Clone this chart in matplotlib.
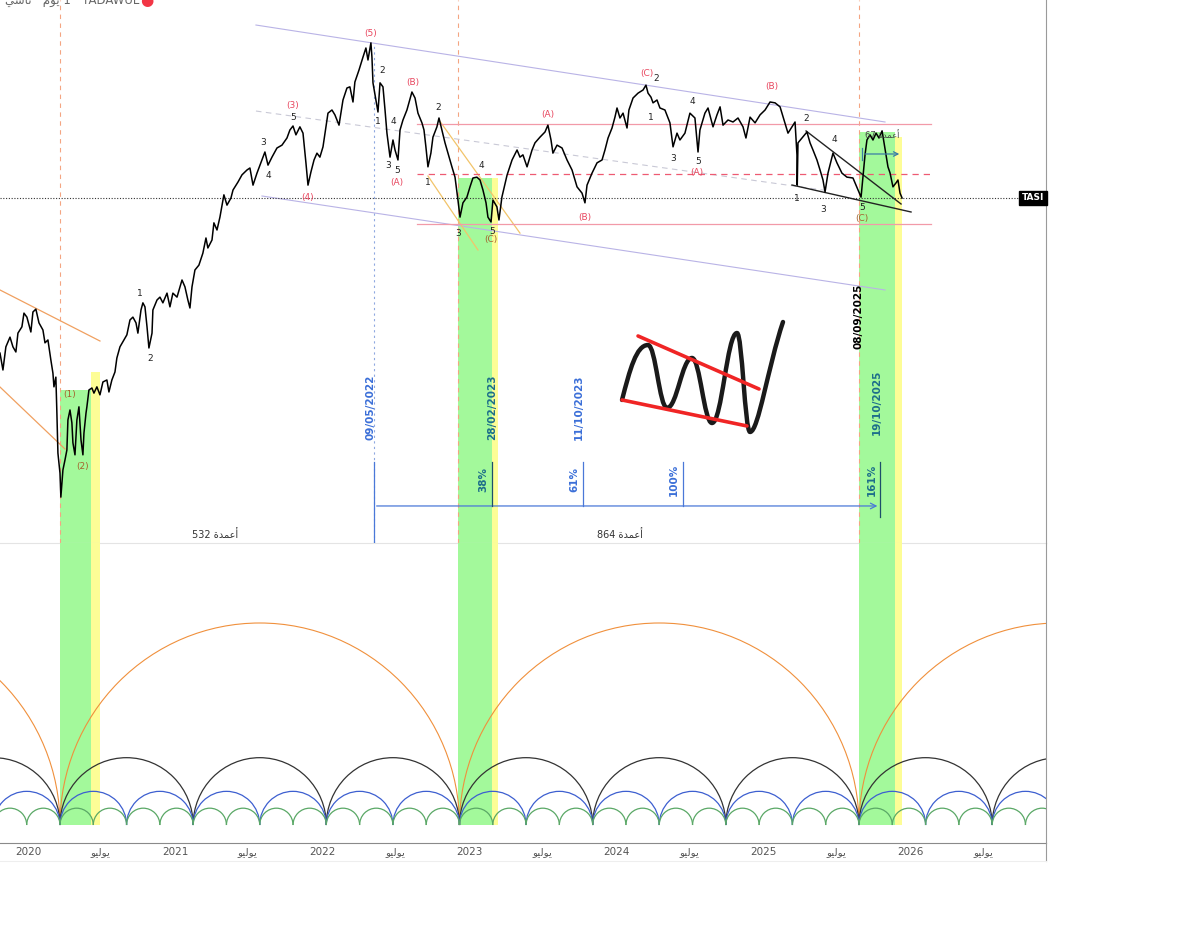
import numpy as np
import matplotlib.pyplot as plt
from matplotlib.patches import Arc, PathPatch
from matplotlib.path import Path
from matplotlib.lines import Line2D

plt.rcParams['font.family'] = ['DejaVu Sans']

# TASI daily close (decimal year, index points)
dates = [2019.810, 2019.830, 2019.850, 2019.878, 2019.898, 2019.918, 2019.932, 2019.959, 2019.973, 2019.993,
         2020.020, 2020.034, 2020.054, 2020.075, 2020.102, 2020.116, 2020.136, 2020.156, 2020.170, 2020.177,
         2020.190, 2020.197, 2020.204, 2020.218, 2020.224, 2020.238, 2020.252, 2020.265, 2020.272, 2020.286,
         2020.299, 2020.306, 2020.320, 2020.333, 2020.347, 2020.361, 2020.374, 2020.381, 2020.395, 2020.401,
         2020.415, 2020.435, 2020.449, 2020.469, 2020.490, 2020.510, 2020.537, 2020.551, 2020.571, 2020.592,
         2020.605, 2020.626, 2020.653, 2020.673, 2020.694, 2020.714, 2020.735, 2020.748, 2020.769, 2020.782,
         2020.796, 2020.810, 2020.823, 2020.844, 2020.850, 2020.878, 2020.898, 2020.918, 2020.946, 2020.966,
         2020.986, 2021.014, 2021.048, 2021.068, 2021.088, 2021.102, 2021.116, 2021.136, 2021.163, 2021.190,
         2021.211, 2021.224, 2021.252, 2021.265, 2021.286, 2021.306, 2021.333, 2021.354, 2021.381, 2021.395,
         2021.429, 2021.456, 2021.490, 2021.510, 2021.531, 2021.558, 2021.592, 2021.612, 2021.633, 2021.660,
         2021.694, 2021.728, 2021.762, 2021.782, 2021.803, 2021.823, 2021.850, 2021.871, 2021.891, 2021.905,
         2021.925, 2021.946, 2021.966, 2021.986, 2022.007, 2022.027, 2022.041, 2022.068, 2022.088, 2022.116,
         2022.143, 2022.170, 2022.190, 2022.211, 2022.224, 2022.252, 2022.279, 2022.299, 2022.313, 2022.333,
         2022.340, 2022.347, 2022.367, 2022.381, 2022.395, 2022.415, 2022.429, 2022.442, 2022.463, 2022.483,
         2022.497, 2022.517, 2022.531, 2022.551, 2022.578, 2022.612, 2022.633, 2022.653, 2022.680, 2022.694,
         2022.707, 2022.721, 2022.741, 2022.755, 2022.782, 2022.796, 2022.816, 2022.837, 2022.857, 2022.884,
         2022.905, 2022.925, 2022.939, 2022.959, 2022.986, 2023.007, 2023.027, 2023.054, 2023.075, 2023.095,
         2023.116, 2023.129, 2023.150, 2023.163, 2023.190, 2023.204, 2023.224, 2023.259, 2023.293, 2023.327,
         2023.347, 2023.367, 2023.395, 2023.429, 2023.449, 2023.483, 2023.517, 2023.537, 2023.558, 2023.571,
         2023.599, 2023.633, 2023.667, 2023.701, 2023.735, 2023.769, 2023.789, 2023.803, 2023.837, 2023.871,
         2023.905, 2023.925, 2023.946, 2023.973, 2023.993, 2024.007, 2024.027, 2024.048, 2024.075, 2024.088,
         2024.116, 2024.150, 2024.184, 2024.204, 2024.218, 2024.238, 2024.252, 2024.279, 2024.299, 2024.333,
         2024.367, 2024.388, 2024.415, 2024.435, 2024.469, 2024.503, 2024.537, 2024.558, 2024.571, 2024.605,
         2024.626, 2024.660, 2024.687, 2024.708, 2024.728, 2024.762, 2024.796, 2024.830, 2024.864, 2024.884,
         2024.912, 2024.946, 2024.980, 2025.014, 2025.048, 2025.082, 2025.116, 2025.143, 2025.170, 2025.197,
         2025.218, 2025.231, 2025.233, 2025.238, 2025.265, 2025.299, 2025.320, 2025.340, 2025.367, 2025.388,
         2025.408, 2025.422, 2025.442, 2025.476, 2025.503, 2025.537, 2025.571, 2025.612, 2025.646, 2025.667,
         2025.694, 2025.707, 2025.728, 2025.748, 2025.769, 2025.789, 2025.810, 2025.837, 2025.850, 2025.864,
         2025.884, 2025.905, 2025.918, 2025.932, 2025.946]
prices = [8520, 8225, 8630, 8800, 8630, 8540, 8870, 8980, 9220, 9150,
          8890, 9240, 9290, 9050, 8925, 8700, 8750, 8400, 8170, 7930,
          8100, 7470, 6770, 6420, 6000, 6475, 6650, 6825, 7350, 7525,
          7300, 6950, 6740, 7350, 7580, 7000, 6740, 7120, 7470, 7580,
          7875, 7910, 7820, 7930, 7790, 8015, 8050, 7840, 8050, 8190,
          8435, 8630, 8750, 8840, 9100, 9150, 9050, 8870, 9275, 9400,
          9330, 8980, 8610, 8870, 9275, 9450, 9500, 9400, 9570, 9330,
          9570, 9500, 9800, 9680, 9450, 9310, 9680, 9975, 10060, 10270,
          10535, 10360, 10500, 10800, 10675, 10900, 11290, 11110, 11235, 11375,
          11515, 11640, 11725, 11760, 11460, 11670, 11900, 12040, 11810, 11950,
          12110, 12160, 12285, 12425, 12495, 12340, 12480, 12370, 11850, 11460,
          11690, 11900, 12020, 11950, 12130, 12480, 12720, 12775, 12690, 12510,
          12950, 13160, 13180, 12915, 13265, 13475, 13700, 13860, 13650, 13950,
          13700, 13250, 12950, 12740, 13250, 13180, 12775, 12370, 11950, 12250,
          12075, 11900, 12425, 12600, 12775, 13090, 12985, 12720, 12550, 12425,
          12130, 11780, 12020, 12300, 12480, 12635, 12425, 12200, 12020, 11780,
          11600, 11200, 10900, 11150, 11250, 11430, 11585, 11600, 11550, 11375,
          11150, 10900, 10815, 11200, 11080, 10850, 11250, 11635, 11900, 12075,
          11950, 11990, 11780, 12075, 12200, 12300, 12390, 12510, 12250, 12020,
          12160, 12110, 11900, 11725, 11430, 11320, 11150, 11460, 11670, 11850,
          11900, 12075, 12285, 12460, 12650, 12810, 12635, 12720, 12460, 12775,
          12985, 13070, 13125, 13210, 13070, 13000, 12900, 12950, 12810, 12775,
          12550, 12130, 12370, 12250, 12370, 12720, 12635, 12040, 12425, 12720,
          12810, 12480, 12690, 12830, 12510, 12600, 12565, 12635, 12480, 12285,
          12650, 12550, 12690, 12775, 12915, 12900, 12830, 12600, 12370, 12480,
          12565, 11990, 11460, 12200, 12285, 12390, 12200, 12075, 11900, 11725,
          11550, 11340, 11670, 12020, 11850, 11670, 11600, 11585, 11375, 11250,
          11990, 12250, 12340, 12250, 12370, 12285, 12410, 11990, 11780, 11675,
          11430, 11500, 11550, 11320, 11235]

# time windows (green = window, yellow = extension)
band_start = [2020.218, 2022.925, 2025.653]
band_split = [2020.429, 2023.156, 2025.898]
band_end = [2020.490, 2023.197, 2025.946]
band_top_green = [7875, 11585, 12390]
band_top_yellow = [8190, 11585, 12302]

# cycle lines (hurst-style arcs)
cycle_anchor = 2020.218
cycle_period = 2.7175
cycle_divs = [1, 3, 6, 12]
cycle_colors = ['#f0903c', '#333333', '#3d5fd0', '#5aa866']

# horizontal levels
level_solid = [12530, 10780]
level_dashed = 11655

# fib time projection
fib_dates = [2022.353, 2023.160, 2023.775, 2024.456, 2025.797]
fib_labels = ['', '38%', '61%', '100%', '161%']
fib_colors = ['#3b6fd8', '#1d6e8a', '#3b6fd8', '#3b6fd8', '#1d6e8a']

# wave labels
wave_x = [2022.333, 2021.803, 2021.803, 2021.599, 2021.633, 2021.905, 2022.408, 2022.381, 2022.483, 2022.449,
          2022.510, 2022.510, 2022.619, 2022.789, 2022.721, 2023.082, 2022.925, 2023.157, 2023.150, 2023.537,
          2023.789, 2024.211, 2024.272, 2024.238, 2024.388, 2024.517, 2024.558, 2024.551, 2025.061, 2025.293,
          2025.483, 2025.231, 2025.408, 2025.674, 2025.674, 2020.762, 2020.830, 2020.286, 2020.374]
wave_y = [14122, 12862, 12652, 12198, 11620, 11235, 13458, 12582, 12582, 11812,
          11720, 11510, 13248, 12810, 11498, 11795, 10605, 10640, 10500, 12688,
          10902, 13422, 13318, 12652, 11918, 12915, 11880, 11680, 13178, 12618,
          12250, 11218, 11042, 11070, 10870, 9572, 8418, 7788, 6528]
wave_txt = ['(5)', '(3)', '5', '3', '4', '(4)', '2', '1', '4', '3',
            '5', '(A)', '(B)', '2', '1', '4', '3', '5', '(C)', '(A)',
            '(B)', '(C)', '2', '1', '3', '4', '5', '(A)', '(B)', '2',
            '4', '1', '3', '5', '(C)', '1', '2', '(1)', '(2)']

RED = '#e8475f'
BROWN = '#a5622e'

fig = plt.figure(figsize=(12, 9.26), dpi=100)
ax = fig.add_axes([0, 383 / 926, 1046 / 1200, 543 / 926])
ax2 = fig.add_axes([0, 83 / 926, 1046 / 1200, 300 / 926])

XMIN, XMAX = 2019.81, 2026.925
YMIN, YMAX = 5197, 14700
for a in (ax, ax2):
    a.set_xlim(XMIN, XMAX)
    a.set_facecolor('none')
ax.set_ylim(YMIN, YMAX)
ax2.set_ylim(-0.089, 1.396)

# bands
for i in range(3):
    ax.fill_between([band_start[i], band_split[i]], YMIN, band_top_green[i], color='#a3f99b', lw=0, zorder=1)
    ax.fill_between([band_split[i], band_end[i]], YMIN, band_top_yellow[i], color='#fdfd96', lw=0, zorder=1)
    ax2.fill_between([band_start[i], band_split[i]], 0, 1.396, color='#a3f99b', lw=0, zorder=1)
    ax2.fill_between([band_split[i], band_end[i]], 0, 1.396, color='#fdfd96', lw=0, zorder=1)
    ax.axvline(band_start[i], color='#f4a582', ls=(0, (4, 4)), lw=0.8, zorder=2)

# channel lines
ax.plot([2021.551, 2025.830], [14262, 12565], color='#b9b3e6', lw=0.8, zorder=2)
ax.plot([2021.592, 2025.830], [11270, 9625], color='#b9b3e6', lw=0.8, zorder=2)
ax.plot([2021.551, 2025.456], [12757, 11357], color='#c9c9d6', lw=0.8, ls=(0, (5, 4)), zorder=2)
ax.plot([2019.810, 2020.490], [9625, 8732], color='#f0a060', lw=0.9, zorder=2)
ax.plot([2019.810, 2020.252], [7927, 6842], color='#f0a060', lw=0.9, zorder=2)
ax.plot([2022.796, 2023.347], [12600, 10620], color='#f2c46a', lw=0.9, zorder=2)
ax.plot([2022.721, 2023.061], [11620, 10325], color='#f2c46a', lw=0.9, zorder=2)

# horizontal levels
for lv in level_solid:
    ax.plot([2022.646, 2026.143], [lv, lv], color='#f29aa8', lw=0.9, zorder=2)
ax.plot([2022.646, 2026.143], [level_dashed] * 2, color='#ee5a72', lw=0.9, ls=(0, (5, 4)), zorder=2)

# wedge
ax.plot([2025.293, 2025.939], [12408, 11130], color='#222222', lw=1.0, zorder=4)
ax.plot([2025.197, 2026.007], [11462, 10990], color='#222222', lw=1.0, zorder=4)

# peak time line
ax.plot([fib_dates[0], fib_dates[0]], [YMIN, 13950], color='#8fa8e0', lw=0.8, ls=(0, (2, 3)), zorder=2)

# price
ax.plot(dates, prices, color='black', lw=1.1, zorder=5)
last = prices[-1]
ax.axhline(last, color='#333333', lw=0.8, ls=(0, (1, 1.5)), zorder=3)
ax.text(XMAX - 0.01, last, 'TASI', color='white', fontsize=6.5, fontweight='bold', ha='right', va='center',
        bbox=dict(boxstyle='square,pad=0.3', fc='black', ec='black'), zorder=6)

# wave labels
for x, y, t in zip(wave_x, wave_y, wave_txt):
    if t.startswith('('):
        c = BROWN if (t in ('(1)', '(2)') or (t == '(C)' and x < 2023.3) or (t == '(C)' and x > 2025.5)) else RED
    else:
        c = '#222222'
    ax.text(x, y, t, color=c, fontsize=6.5, ha='center', va='center', zorder=6)

# fib time projection
base_y = 5845
ax.annotate('', xy=(fib_dates[-1], base_y), xytext=(fib_dates[0], base_y),
            arrowprops=dict(arrowstyle='->', color='#4a78d8', lw=0.9), zorder=4)
ax.plot([fib_dates[0]] * 2, [YMIN, 6615], color='#4a78d8', lw=0.9, zorder=4)
for d, lab, c in zip(fib_dates[1:], fib_labels[1:], fib_colors[1:]):
    lo = 5652 if lab == '161%' else base_y
    ax.plot([d, d], [lo, 6615], color='#1d4f6a' if c == '#1d6e8a' else '#4a78d8', lw=0.9, zorder=4)
    ax.text(d - 0.06, 6310, lab, color=c, fontsize=7.5, fontweight='bold', rotation=90, ha='center',
            va='center', zorder=6)

ax.text(2022.333, 7580, '09/05/2022', color='#3b6fd8', fontsize=7.5, fontweight='bold', rotation=90,
        ha='center', va='center', zorder=6)
ax.text(2023.156, 7580, '28/02/2023', color='#1d6e8a', fontsize=7.5, fontweight='bold', rotation=90,
        ha='center', va='center', zorder=6)
ax.text(2023.748, 7580, '11/10/2023', color='#3b6fd8', fontsize=7.5, fontweight='bold', rotation=90,
        ha='center', va='center', zorder=6)
ax.text(2025.653, 9170, '08/09/2025', color='black', fontsize=7.5, fontweight='bold', rotation=90,
        ha='center', va='center', zorder=6)
ax.text(2025.776, 7665, '19/10/2025', color='#1d6e8a', fontsize=7.5, fontweight='bold', rotation=90,
        ha='center', va='center', zorder=6)

# bar counts (Arabic in presentation forms, visual order)
bars_word = '\uFE93\uFEAA\uFEE4\uFECB\uFE83'
ax.text(2021.272, 5340, '532 ' + bars_word, color='#333333', fontsize=7, ha='center', va='center', zorder=6)
ax.text(2024.027, 5340, '864 ' + bars_word, color='#333333', fontsize=7, ha='center', va='center', zorder=6)
ax.text(2025.694, 12320, '67 ' + bars_word, color='#444444', fontsize=6, ha='left', va='center', zorder=6)
ax.annotate('', xy=(2025.946, 12005), xytext=(2025.674, 12005),
            arrowprops=dict(arrowstyle='->', color='#3a7ca5', lw=0.9, mutation_scale=8), zorder=6)
ax.plot([2025.674] * 2, [11900, 12110], color='#3a7ca5', lw=0.9, zorder=6)

# hand-drawn pattern: swing points joined by smooth curves
sx = [2024.041, 2024.218, 2024.347, 2024.517, 2024.653, 2024.823, 2024.912, 2025.136]
sy = [7700, 8662, 7560, 8435, 7297, 8872, 7140, 9065]
verts = [(sx[0], sy[0])]
codes = [Path.MOVETO]
n_seg = len(sx) - 1
for i in range(n_seg):
    dx = sx[i + 1] - sx[i]
    dy = sy[i + 1] - sy[i]
    if i == 0:
        c1 = (sx[i] + 0.3 * dx, sy[i] + 0.55 * dy)
        c2 = (sx[i + 1] - 0.45 * dx, sy[i + 1])
    elif i == n_seg - 1:
        c1 = (sx[i] + 0.25 * dx, sy[i])
        c2 = (sx[i] + 0.55 * dx, sy[i] + 0.6 * dy)
    else:
        c1 = (sx[i] + 0.4 * dx, sy[i])
        c2 = (sx[i + 1] - 0.4 * dx, sy[i + 1])
    verts += [c1, c2, (sx[i + 1], sy[i + 1])]
    codes += [Path.CURVE4] * 3
ax.add_patch(PathPatch(Path(verts, codes), fill=False, ec='#1a1a1a', lw=3.2, zorder=7,
                       capstyle='round', joinstyle='round'))
ax.plot([2024.150, 2024.973], [8820, 7892], color='#f02525', lw=2.6, zorder=8, solid_capstyle='round')
ax.plot([2024.041, 2024.891], [7700, 7245], color='#f02525', lw=2.6, zorder=8, solid_capstyle='round')

# cycle arcs
for n, col in zip(cycle_divs, cycle_colors):
    p = cycle_period / n
    amp = 1.0 / n
    k0 = int(np.floor((XMIN - cycle_anchor) / p)) - 1
    k1 = int(np.ceil((XMAX - cycle_anchor) / p)) + 1
    for k in range(k0, k1):
        c = cycle_anchor + k * p + p / 2
        ax2.add_patch(Arc((c, 0), p, 2 * amp, theta1=0, theta2=180, color=col, lw=0.9 if n > 1 else 0.8,
                          zorder=3))

# axes cosmetics
ax.set_yticks([])
ax.tick_params(axis='x', bottom=False, labelbottom=False)
for s in ('top', 'left'):
    ax.spines[s].set_visible(False)
    ax2.spines[s].set_visible(False)
ax.spines['bottom'].set_color('#e4e4e4')
ax.spines['right'].set_color('#9a9a9a')
ax2.spines['bottom'].set_color('#8a8a8a')
ax2.spines['right'].set_color('#9a9a9a')
ax2.set_yticks([])
july = '\uFEEE\uFEF4\uFEDF\uFEEE\uFEF3'
ticks, labels = [], []
for yr in range(2020, 2027):
    ticks += [yr, yr + 0.496]
    labels += [str(yr), july]
ax2.set_xticks(ticks)
ax2.set_xticklabels(labels, fontsize=7.5, color='#555555')
ax2.tick_params(axis='x', length=0, pad=3)
ax2.set_xlim(XMIN, XMAX)

fig.add_artist(Line2D([1046 / 1200] * 2, [65 / 926, 83 / 926], color='#9a9a9a', lw=0.8))
fig.add_artist(Line2D([0, 1046 / 1200], [65 / 926] * 2, color='#eeeeee', lw=0.8))

# header (cut off at the top edge, as in the screenshot)
fig.text(0.004, 0.999, '\uFEF2\uFEB3\uFE8E\uFE97 \u00b7 \uFEE1\uFEEE\uFEF3 1 \u00b7 TADAWUL', color='#666666',
         fontsize=8.5, ha='left', va='center')
fig.text(147 / 1200, 0.999, '\u25cf', color='#f23645', fontsize=11, ha='center', va='center')

fig.savefig('out.png', dpi=100)
